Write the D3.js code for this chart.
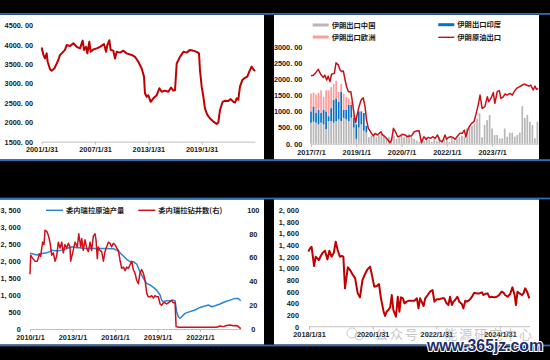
<!DOCTYPE html>
<html><head><meta charset="utf-8">
<script src="https://cdn.jsdelivr.net/npm/d3@7"></script>
<style>body{margin:0;background:#000;}svg{display:block}</style>
</head><body>
<svg id="c" width="550" height="360"></svg>
<script>
// ---------- Panel 1: price series ----------
const p1Dates = [2001.08,2001.27,2001.45,2001.64,2001.75,2002.02,2002.20,2002.50,2002.77,2002.95,2003.14,2003.33,2003.70,2003.89,2004.27,2004.64,2005.02,2005.39,2005.69,2005.84,2006.07,2006.22,2006.44,2006.59,2006.89,2007.27,2007.64,2008.09,2008.32,2008.47,2008.69,2008.84,2009.14,2009.33,2009.52,2009.89,2010.27,2010.64,2011.20,2011.58,2011.95,2012.33,2012.59,2012.70,2012.89,2013.08,2013.34,2013.64,2014.02,2014.32,2014.58,2014.95,2015.33,2015.63,2015.89,2016.08,2016.27,2016.64,2017.02,2017.39,2017.77,2018.14,2018.52,2018.78,2018.89,2019.08,2019.27,2019.45,2019.72,2020.02,2020.39,2020.77,2020.95,2021.14,2021.44,2021.70,2022.08,2022.34,2022.64,2022.83,2023.02,2023.20,2023.39,2023.65,2023.95,2024.21,2024.44,2024.70,2024.89,2025.08];
const p1Values = [3930,3740,3650,3780,3565,3370,3330,3390,3520,3610,3740,3780,3870,3995,3970,4040,3950,3910,4110,3870,3950,3780,4080,3820,3880,3910,3950,4020,3820,3995,4120,3870,3850,3650,3820,3800,3850,3780,3740,3690,3565,3390,3180,2750,2660,2700,2530,2620,2700,2880,2790,2820,2790,2900,2820,2830,3520,3690,3820,3800,3870,3850,3820,3780,3350,2920,2660,2360,2190,2100,2020,1960,1990,2320,2530,2560,2550,2600,2530,2510,2620,2580,2920,3090,3150,3180,3310,3440,3370,3320];
const p1XTicks = [2001.08,2007.08,2013.08,2019.08];
const p1XLabels = ["2001/1/31","2007/1/31","2013/1/31","2019/1/31"];
const p1YTicks = [1500,2000,2500,3000,3500,4000,4500];
const p1YLabels = ["1500. 00","2000. 00","2500. 00","3000. 00","3500. 00","4000. 00","4500. 00"];

// ---------- Panel 2: Iran exports ----------
const p2Series = ["伊朗出口中国","伊朗出口印度","伊朗出口欧洲","伊朗原油出口"];
const p2BarStart = 2017.5; // first month 2017/7
const p2China = [650,680,650,600,650,600, 450,700,700,650,700,750, 700,800,750,700,800,500, 150,500,600,400,350,200, 250,300,200,250,300,280, 150,200,180,250,150,200, 250,200,280,300,200,150, 100,50,150,80,200,120, 60,150,80,200,100,150, 120,60,180,100,150,200, 250,220,470,525,560,630, 780,940,200,580,730,890, 470,270,270,160,165,470, 215,340,340,215,270,340, 1165,800,890,680,580,165, 680];
const p2India = [350,470,300,450,300,450, 550,150,400,700,700,550, 900,250,300,500,400,300, 450,500,400,550,200,0, 0,0,0,0,0,0, 0,0,0,0,0,0, 0,0,0,0,0,0, 0,0,0,0,0,0, 0,0,0,0,0,0, 0,0,0,0,0,0, 0,0,0,0,0,0, 0,0,0,0,0,0, 0,0,0,0,0,0, 0,0,0,0,0,0, 0,0,0,0,0,0, 0];
const p2Europe = [550,430,570,520,700,400, 650,800,650,500,550,300, 250,500,400,200,100,100, 0,0,0,0,0,0, 0,0,0,0,0,0, 0,0,0,0,0,0, 0,0,0,0,0,0, 0,0,0,0,0,0, 0,0,0,0,0,0, 0,0,0,0,0,0, 0,0,0,0,0,0, 0,0,0,0,0,0, 0,0,0,0,0,0, 0,0,0,0,0,0, 0,0,0,0,0,0, 0];
const p2LineDates = [2017.50,2017.58,2017.65,2017.74,2017.82,2017.91,2017.96,2018.02,2018.07,2018.13,2018.18,2018.27,2018.33,2018.41,2018.46,2018.52,2018.57,2018.63,2018.68,2018.74,2018.82,2018.88,2018.93,2018.98,2019.02,2019.09,2019.16,2019.23,2019.29,2019.34,2019.40,2019.49,2019.56,2019.62,2019.70,2019.76,2019.82,2019.87,2019.95,2020.03,2020.12,2020.17,2020.23,2020.30,2020.37,2020.45,2020.52,2020.61,2020.69,2020.76,2020.83,2020.92,2021.00,2021.08,2021.16,2021.24,2021.31,2021.39,2021.46,2021.53,2021.61,2021.69,2021.77,2021.85,2021.94,2021.99,2022.05,2022.12,2022.21,2022.27,2022.36,2022.43,2022.51,2022.58,2022.63,2022.69,2022.74,2022.82,2022.90,2022.96,2023.04,2023.10,2023.17,2023.26,2023.34,2023.39,2023.46,2023.54,2023.59,2023.67,2023.74,2023.79,2023.87,2023.92,2024.00,2024.09,2024.17,2024.23,2024.31,2024.40,2024.48,2024.56,2024.64,2024.72,2024.78,2024.86,2024.92,2024.97,2025.03];
const p2LineValues = [2100,2120,2190,2300,2150,2050,2120,1970,2090,1920,2150,2175,2500,2430,2280,2230,2250,1970,1760,1610,1610,1250,890,650,855,1145,1350,1420,1145,730,475,340,240,320,270,320,370,270,215,135,30,115,475,370,215,240,290,270,215,240,240,370,390,400,30,215,135,195,165,215,165,270,95,60,270,135,195,215,195,135,240,320,320,420,215,420,525,630,680,890,1200,1505,1090,1145,1450,1300,1400,1580,1250,1610,1640,1400,1450,1535,1505,1555,1505,1610,1710,1760,1800,1845,1815,1780,1815,1660,1780,1680,1710];
const p2XTicks = [2017.5,2019.0,2020.5,2022.0,2023.5];
const p2XLabels = ["2017/7/1","2019/1/1","2020/7/1","2022/1/1","2023/7/1"];
const p2YTicks = [0,500,1000,1500,2000,2500,3000];
const p2YLabels = ["0. 00","500. 00","1000. 00","1500. 00","2000. 00","2500. 00","3000. 00"];

// ---------- Panel 3: Venezuela ----------
const p3Series = ["委内瑞拉原油产量","委内瑞拉钻井数(右)"];
const p3ProdDates = [2010.00,2010.24,2010.47,2010.71,2010.94,2011.18,2011.41,2011.53,2011.76,2012.00,2012.24,2012.47,2012.59,2012.82,2013.06,2013.29,2013.53,2013.76,2014.00,2014.24,2014.47,2014.71,2014.94,2015.18,2015.41,2015.65,2015.88,2016.12,2016.35,2016.59,2016.82,2017.06,2017.29,2017.53,2017.76,2018.00,2018.24,2018.47,2018.71,2018.94,2019.18,2019.29,2019.41,2019.65,2019.88,2020.00,2020.24,2020.35,2020.47,2020.59,2020.71,2020.94,2021.29,2021.65,2022.00,2022.35,2022.59,2022.82,2023.06,2023.41,2023.76,2024.12,2024.47,2024.71,2024.87];
const p3ProdValues = [2225,2205,2175,2205,2225,2245,2275,2320,2300,2300,2320,2340,2370,2400,2420,2390,2390,2370,2370,2370,2370,2370,2370,2370,2370,2360,2360,2320,2245,2145,2050,1980,1980,1910,1685,1490,1340,1295,1225,1145,1000,850,800,830,830,850,830,510,360,315,360,460,510,560,635,675,705,655,685,735,800,850,900,900,830];
const p3RigDates = [2010.00,2010.05,2010.16,2010.35,2010.52,2010.66,2010.75,2010.89,2010.99,2011.06,2011.18,2011.29,2011.41,2011.53,2011.65,2011.76,2011.88,2012.00,2012.12,2012.24,2012.35,2012.47,2012.59,2012.71,2012.82,2012.87,2013.01,2013.18,2013.34,2013.44,2013.58,2013.65,2013.76,2013.88,2014.00,2014.12,2014.24,2014.35,2014.47,2014.59,2014.66,2014.75,2014.82,2014.94,2015.06,2015.18,2015.29,2015.41,2015.53,2015.65,2015.76,2015.88,2016.00,2016.12,2016.24,2016.35,2016.47,2016.59,2016.71,2016.82,2016.94,2017.06,2017.18,2017.29,2017.41,2017.53,2017.65,2017.76,2017.88,2018.00,2018.12,2018.24,2018.35,2018.47,2018.59,2018.71,2018.82,2018.94,2019.06,2019.18,2019.29,2019.41,2019.53,2019.65,2019.76,2019.88,2020.00,2020.12,2020.24,2020.31,2020.47,2023.18,2023.41,2023.65,2023.88,2024.12,2024.35,2024.59,2024.71,2024.87];
const p3RigValues = [46,62,60,57,57,63,61,73,71,83,82,79,73,62,64,57,61,73,68,73,64,71,68,72,69,57,64,73,69,80,69,76,66,75,68,65,73,66,78,80,75,59,69,66,65,57,65,69,73,72,69,72,71,68,66,58,51,52,49,52,51,54,57,50,47,41,38,47,50,47,41,30,27,27,28,26,28,27,27,21,20,22,22,21,22,23,24,22,22,2,1.5,1.5,2.5,2,3,3.4,2.8,3,2,0.3];
const p3XTicks = [2010,2013,2016,2019,2022];
const p3XLabels = ["2010/1/1","2013/1/1","2016/1/1","2019/1/1","2022/1/1"];
const p3YTicks = [0,500,1000,1500,2000,2500,3000,3500];
const p3YLabels = ["0","500","1, 000","1, 500","2, 000","2, 500","3, 000","3, 500"];
const p3RTicks = [0,20,40,60,80,100];

// ---------- Panel 4 ----------
const p4Dates = [2018.06,2018.11,2018.16,2018.24,2018.29,2018.34,2018.39,2018.45,2018.51,2018.58,2018.66,2018.72,2018.79,2018.86,2018.92,2018.98,2019.05,2019.11,2019.16,2019.21,2019.30,2019.37,2019.44,2019.53,2019.61,2019.68,2019.76,2019.84,2019.92,2020.00,2020.05,2020.13,2020.21,2020.28,2020.34,2020.42,2020.47,2020.52,2020.57,2020.63,2020.68,2020.73,2020.81,2020.87,2020.92,2020.97,2021.03,2021.08,2021.15,2021.22,2021.31,2021.39,2021.47,2021.52,2021.57,2021.62,2021.68,2021.73,2021.81,2021.88,2021.96,2022.02,2022.09,2022.17,2022.25,2022.33,2022.39,2022.46,2022.51,2022.57,2022.62,2022.67,2022.74,2022.80,2022.88,2022.93,2022.99,2023.04,2023.09,2023.14,2023.20,2023.27,2023.35,2023.43,2023.51,2023.56,2023.61,2023.69,2023.75,2023.82,2023.90,2023.98,2024.05,2024.13,2024.19,2024.24,2024.32,2024.40,2024.47,2024.54,2024.58,2024.63,2024.69,2024.77,2024.82,2024.87,2024.93,2025.00];
const p4Values = [1286,1343,1371,1040,1200,1171,1143,1211,1269,1303,1154,1303,1200,1269,1457,1314,1200,1211,1200,657,1017,971,903,829,571,503,800,903,983,1029,903,686,697,731,486,269,183,257,286,331,543,286,171,514,257,503,486,400,429,446,446,446,486,314,486,429,354,486,543,600,629,429,469,469,486,486,411,371,514,371,429,457,514,429,389,314,446,429,446,469,514,583,571,571,589,543,560,571,503,514,503,514,543,600,583,543,514,560,674,543,371,600,571,543,571,657,600,486];
const p4XTicks = [2018.08,2020.08,2022.08,2024.08];
const p4XLabels = ["2018/1/31","2020/1/31","2022/1/31","2024/1/31"];
const p4YTicks = [0,200,400,600,800,1000,1200,1400,1600,1800,2000];
const p4YLabels = ["0","200","400","600","800","1, 000","1, 200","1, 400","1, 600","1, 800","2, 000"];

// ================= drawing =================
const svg = d3.select("#c");
svg.append("rect").attr("width",550).attr("height",360).attr("fill","#000");
[[0,15,264,144.5],[274,15,265,144.5],[0,199.5,264,145],[274,199.5,265,145]].forEach(r=>{
  svg.append("rect").attr("x",r[0]).attr("y",r[1]).attr("width",r[2]).attr("height",r[3]).attr("fill","#fff");
});
[13,159.2,197.6,344.6].forEach(y=>{
  svg.append("rect").attr("x",0).attr("y",y).attr("width",550).attr("height",1.8).attr("fill","#2d6db3");
});

const AX_FONT = "'Liberation Sans', Arial, sans-serif";
const CJK_FONT = "'Noto Sans CJK SC', sans-serif";
function styleAxis(g, keepDomain){
  g.selectAll("text").attr("font-family",AX_FONT).attr("font-size","7.3px").attr("font-weight","bold").attr("fill","#222");
  g.selectAll("line").attr("stroke","#bfbfbf");
  if(keepDomain) g.select(".domain").attr("stroke","#bfbfbf");
  else g.select(".domain").remove();
}
function xAxis(x, y0, ticks, labels, pad){
  const g = svg.append("g").attr("transform",`translate(0,${y0})`)
    .call(d3.axisBottom(x).tickValues(ticks).tickFormat((d,i)=>labels[i]).tickSize(3).tickSizeOuter(0).tickPadding(pad));
  styleAxis(g,true);
  return g;
}
function yAxis(y, x0, ticks, labels, anchor){
  const g = svg.append("g").attr("transform",`translate(${x0},0)`)
    .call(d3.axisLeft(y).tickValues(ticks).tickFormat((d,i)=>labels? labels[i] : d).tickSize(0).tickPadding(0));
  styleAxis(g,false);
  if(anchor) g.selectAll("text").attr("text-anchor",anchor).attr("x",0);
  return g;
}

// ---- Panel 1 ----
{
  const x = d3.scaleLinear().domain([2001.08,2025.08]).range([41.7,255]);
  const y = d3.scaleLinear().domain([1500,4500]).range([141.7,25.5]);
  xAxis(x,141.7,p1XTicks,p1XLabels,2.5);
  yAxis(y,33,p1YTicks,p1YLabels);
  svg.append("path").datum(p1Dates.map((d,i)=>[d,p1Values[i]]))
    .attr("d",d3.line().x(d=>x(d[0])).y(d=>y(d[1])))
    .attr("fill","none").attr("stroke","#c00000").attr("stroke-width",2).attr("stroke-linejoin","round");
}

// ---- Panel 2 ----
{
  const x = d3.scaleLinear().domain([2017.5,2025.03]).range([311,538.3]);
  const y = d3.scaleLinear().domain([0,3000]).range([143.7,46.7]);
  const rows = p2China.map((v,i)=>({t:p2BarStart+i/12, china:v, india:p2India[i], europe:p2Europe[i]}));
  const stack = d3.stack().keys(["china","india","europe"])(rows);
  const colors = {china:"#b7b7b7", india:"#0a70c2", europe:"#ff9c9c"};
  const bw = 1.7;
  stack.forEach(layer=>{
    svg.append("g").selectAll("rect").data(layer).join("rect")
      .attr("x",d=>x(d.data.t)-bw/2).attr("width",bw)
      .attr("y",d=>y(d[1])).attr("height",d=>Math.max(0,y(d[0])-y(d[1])))
      .attr("fill",colors[layer.key]);
  });
  xAxis(x,143.7,p2XTicks,p2XLabels,3.5);
  yAxis(y,302.3,p2YTicks,p2YLabels);
  svg.append("path").datum(p2LineDates.map((d,i)=>[d,p2LineValues[i]]))
    .attr("d",d3.line().x(d=>x(d[0])).y(d=>y(d[1])))
    .attr("fill","none").attr("stroke","#c8101a").attr("stroke-width",1.5).attr("stroke-linejoin","round");
  // legend
  const lg = [
    {x:312.7,y:25,c:"#b7b7b7",h:3,name:p2Series[0]},
    {x:438.3,y:24.7,c:"#0a70c2",h:3,name:p2Series[1]},
    {x:312.7,y:37,c:"#ff9c9c",h:3,name:p2Series[2]},
    {x:438.3,y:37.3,c:"#c8101a",h:1.4,name:p2Series[3]}
  ];
  lg.forEach(l=>{
    svg.append("rect").attr("x",l.x).attr("y",l.y-l.h/2).attr("width",16).attr("height",l.h).attr("fill",l.c);
    svg.append("text").attr("x",l.x+19).attr("y",l.y+2.7).text(l.name)
      .attr("font-family",CJK_FONT).attr("font-size","7.3px").attr("font-weight","bold").attr("fill","#222");
  });
}

// ---- Panel 3 ----
{
  const x = d3.scaleLinear().domain([2010,2024.87]).range([30,240.7]);
  const yL = d3.scaleLinear().domain([0,3500]).range([329,210]);
  const yR = d3.scaleLinear().domain([0,100]).range([329,210]);
  xAxis(x,329,p3XTicks,p3XLabels,2.8);
  yAxis(yL,20.7,p3YTicks,p3YLabels);
  yAxis(yR,253.3,p3RTicks,null,"middle");
  svg.append("path").datum(p3ProdDates.map((d,i)=>[d,p3ProdValues[i]]))
    .attr("d",d3.line().x(d=>x(d[0])).y(d=>yL(d[1])))
    .attr("fill","none").attr("stroke","#2a86d8").attr("stroke-width",1.5).attr("stroke-linejoin","round");
  svg.append("path").datum(p3RigDates.map((d,i)=>[d,p3RigValues[i]]))
    .attr("d",d3.line().x(d=>x(d[0])).y(d=>yR(d[1])))
    .attr("fill","none").attr("stroke","#d0101a").attr("stroke-width",1.5).attr("stroke-linejoin","round");
  [{x:46,c:"#2a86d8",name:p3Series[0]},{x:138.3,c:"#d0101a",name:p3Series[1]}].forEach(l=>{
    svg.append("line").attr("x1",l.x).attr("x2",l.x+17).attr("y1",210.3).attr("y2",210.3).attr("stroke",l.c).attr("stroke-width",1.5);
    svg.append("text").attr("x",l.x+20).attr("y",213).text(l.name)
      .attr("font-family",CJK_FONT).attr("font-size","7.3px").attr("font-weight","bold").attr("fill","#222");
  });
}

// ---- Panel 4 ----
{
  const x = d3.scaleLinear().domain([2018.08,2024.08]).range([309,500]);
  const y = d3.scaleLinear().domain([0,2000]).range([326.7,210]);
  xAxis(x,326.7,p4XTicks,p4XLabels,2.5).select(".domain").attr("d","M309,0H530");
  yAxis(y,299,p4YTicks,p4YLabels);
  svg.append("path").datum(p4Dates.map((d,i)=>[d,p4Values[i]]))
    .attr("d",d3.line().x(d=>x(d[0])).y(d=>y(d[1])))
    .attr("fill","none").attr("stroke","#c00000").attr("stroke-width",2).attr("stroke-linejoin","round");
}

// ---- watermark ----
svg.append("circle").attr("cx",352).attr("cy",333).attr("r",5).attr("fill","none").attr("stroke","#aaa").attr("stroke-width",1).attr("opacity",0.6);
svg.append("circle").attr("cx",359).attr("cy",336).attr("r",4).attr("fill","none").attr("stroke","#aaa").attr("stroke-width",1).attr("opacity",0.6);
svg.append("text").attr("x",375).attr("y",339).text("公众号 · 能源研究中心")
  .attr("textLength",157).attr("lengthAdjust","spacing")
  .attr("font-family",CJK_FONT).attr("font-size","13px").attr("fill","#999").attr("opacity",0.55);
svg.append("text").attr("x",427).attr("y",351).text("www.365jz.com")
  .attr("textLength",116).attr("lengthAdjust","spacingAndGlyphs")
  .attr("font-family",AX_FONT).attr("font-size","16px").attr("font-weight","bold")
  .attr("fill","#1b2d6b").attr("stroke","#fff").attr("stroke-width",2.2).attr("paint-order","stroke");
</script>
</body></html>
